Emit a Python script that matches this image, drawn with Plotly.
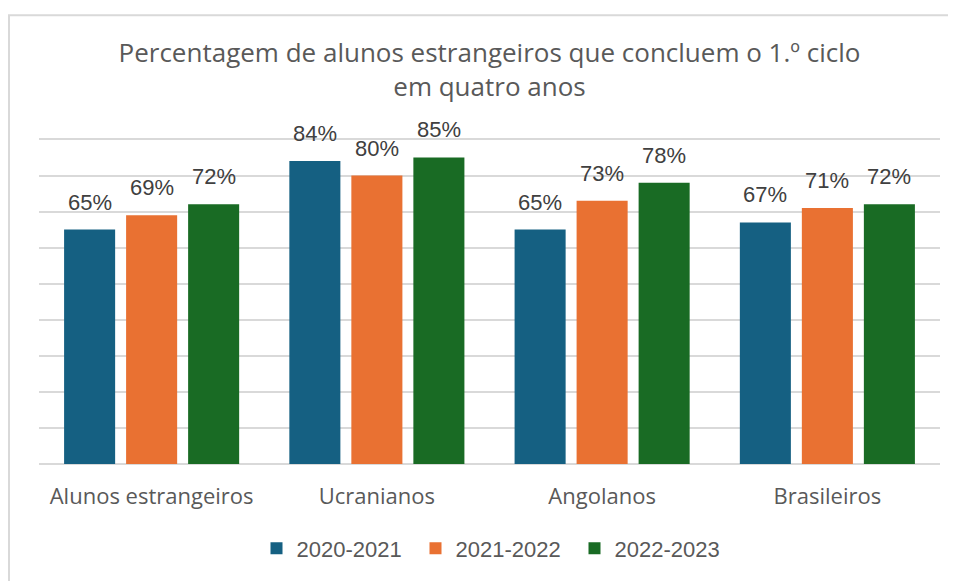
import plotly.graph_objects as go

categories = ["Alunos estrangeiros", "Ucranianos", "Angolanos", "Brasileiros"]
series_names = ["2020-2021", "2021-2022", "2022-2023"]
values_2020_2021 = [65, 84, 65, 67]
values_2021_2022 = [69, 80, 73, 71]
values_2022_2023 = [72, 85, 78, 72]
series_values = [values_2020_2021, values_2021_2022, values_2022_2023]
colors = ["#156082", "#E97132", "#196B24"]

# page body has an 8px margin; figure is drawn from (8, 8)
OFF = 8
W, H = 956 - OFF, 581 - OFF

# target screen positions of the plot area
plot_left, plot_right = 39, 940
base_y = 466.7
ymax = 90.4
top_y = base_y - 36.41 * ymax / 10

ML = plot_left - OFF
MR = (OFF + W) - plot_right
MT = top_y - OFF
MB = (OFF + H) - base_y
plot_w = W - ML - MR
plot_h = H - MT - MB

fig = go.Figure()
for name, vals, col in zip(series_names, series_values, colors):
    fig.add_trace(go.Bar(
        x=categories, y=vals, name=name,
        marker=dict(color=col, line=dict(width=0)),
        hoverinfo="x+y+name",
    ))

# data labels
slot_px = 62
annotations = []
for i, vals in enumerate(series_values):
    for c, v in zip(categories, vals):
        annotations.append(dict(
            x=c, y=v, xref="x", yref="y", text=f"{v}%",
            showarrow=False, xanchor="center", yanchor="bottom",
            xshift=(i - 1) * slot_px, yshift=13,
            font=dict(family="Liberation Sans, Arial, sans-serif", size=22, color="#404040"),
        ))

def sx(px):
    """screen x -> paper x"""
    return (px - OFF - ML) / plot_w

def sy(py):
    """screen y -> paper y"""
    return (base_y - py) / plot_h

border_col = "#d9d9d9"
shapes = [
    dict(type="line", xref="paper", yref="paper",
         x0=sx(9), x1=sx(9), y0=sy(590), y1=sy(13.5),
         line=dict(color=border_col, width=2)),
    dict(type="line", xref="paper", yref="paper",
         x0=sx(8), x1=sx(970), y0=sy(13.5), y1=sy(13.5),
         line=dict(color=border_col, width=2)),
]

fig.update_layout(
    width=W, height=H,
    margin=dict(l=ML, r=MR, t=MT, b=MB, pad=0),
    paper_bgcolor="white", plot_bgcolor="white",
    barmode="group", bargap=0.174, bargroupgap=0.177,
    title=dict(
        text="Percentagem de alunos estrangeiros que concluem o 1.º ciclo<br>em quatro anos",
        x=0.5, xref="paper", y=1 - (62 - OFF) / H, yref="container",
        xanchor="center", yanchor="middle",
        font=dict(family="Open Sans, sans-serif", size=26, color="#595959"),
    ),
    xaxis=dict(
        showline=False, showgrid=False, zeroline=False, ticks="",
        tickfont=dict(family="Open Sans, sans-serif", size=22, color="#595959"),
        ticklabelstandoff=17,
    ),
    yaxis=dict(
        range=[0, ymax], dtick=10, showticklabels=False,
        showgrid=True, gridcolor="#d9d9d9", gridwidth=1.5,
        zeroline=True, zerolinecolor="#d9d9d9", zerolinewidth=2,
        showline=False, ticks="",
    ),
    legend=dict(
        orientation="h", x=sx(495), xanchor="center",
        y=sy(552), yanchor="middle",
        font=dict(family="Liberation Sans, Arial, sans-serif", size=22, color="#595959"),
        itemwidth=30, entrywidth=114, entrywidthmode="pixels",
    ),
    annotations=annotations,
    shapes=shapes,
    showlegend=True,
)

fig.write_html("out.html")
